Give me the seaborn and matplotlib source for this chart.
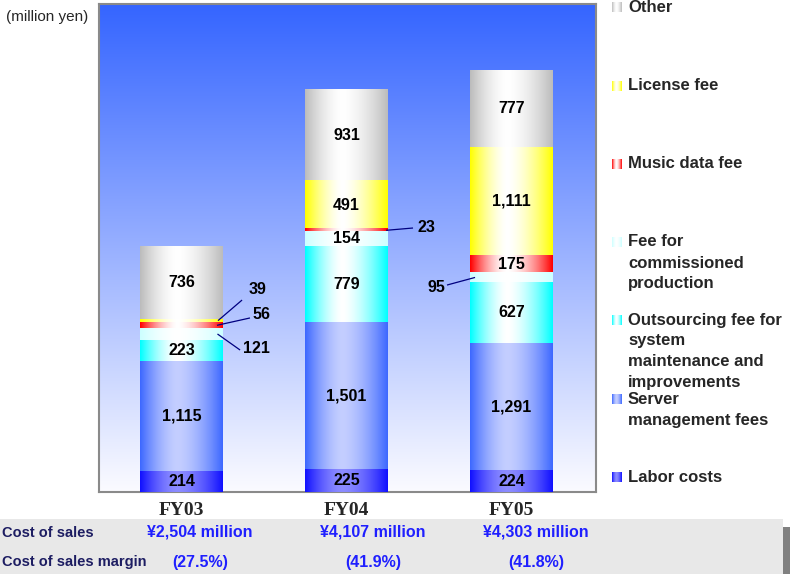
import numpy as np
import pandas as pd
import matplotlib
matplotlib.use("Agg")
import matplotlib.pyplot as plt
from matplotlib.colors import to_rgb
from matplotlib.patches import Rectangle
import seaborn as sns

# ---------------------------------------------------------------- data
years = ["FY03", "FY04", "FY05"]

labor = [214, 225, 224]
server = [1115, 1501, 1291]
outsourcing = [223, 779, 627]
commissioned = [121, 154, 95]
music = [56, 23, 175]
license_fee = [39, 491, 1111]
other = [736, 931, 777]

series_keys = ["labor", "server", "outsourcing", "commissioned",
               "music", "license", "other"]
legend_lines = {
    "labor": ["Labor costs"],
    "server": ["Server", "management fees"],
    "outsourcing": ["Outsourcing fee for", "system", "maintenance and", "improvements"],
    "commissioned": ["Fee for", "commissioned", "production"],
    "music": ["Music data fee"],
    "license": ["License fee"],
    "other": ["Other"],
}

cost_of_sales = ["¥2,504 million", "¥4,107 million", "¥4,303 million"]
cost_margin = ["(27.5%)", "(41.9%)", "(41.8%)"]

# ---------------------------------------------------------------- styling
sns.set_style("white")
plt.rcParams["font.family"] = ["Liberation Sans", "DejaVu Sans"]

# (edge colour, centre highlight) of the cylinder-like shading
shades = {
    "labor": ("#1010ff", "#8c8cff"),
    "server": ("#3d68ff", "#c4ceff"),
    "outsourcing": ("#00ffff", "#ffffff"),
    "commissioned": ("#ccffff", "#ffffff"),
    "music": ("#ff0000", "#ffffff"),
    "license": ("#ffff00", "#ffffff"),
    "other": ("#bcbcbc", "#ffffff"),
}

W, H = 790, 574
fig = plt.figure(figsize=(W / 100, H / 100), dpi=100)


def fx(px):
    return px / W


def fy(py):
    return 1 - py / H


def shade_strip(edge, centre, n=120, peak=0.45):
    t = np.linspace(0, 1, n)
    d = np.where(t < peak, (peak - t) / peak, (t - peak) / (1 - peak))
    s = 1 - d ** 1.6
    e, c = np.array(to_rgb(edge)), np.array(to_rgb(centre))
    return (e[None, :] * (1 - s[:, None]) + c[None, :] * s[:, None])[None, :, :]


# plot area, with a vertical blue-to-white backdrop
ax_left, ax_right, ax_top, ax_bottom = 99, 596, 4, 492
pos = [fx(ax_left), fy(ax_bottom), fx(ax_right - ax_left), (ax_bottom - ax_top) / H]

bg = fig.add_axes(pos, zorder=0)
v = np.linspace(0, 1, 256)[:, None]
top_c, bot_c = np.array(to_rgb("#3565ff")), np.array(to_rgb("#fbfbff"))
backdrop = top_c[None, None, :] * (1 - v[:, :, None]) + bot_c[None, None, :] * v[:, :, None]
bg.imshow(backdrop, aspect="auto", extent=[0, 1, 0, 1], interpolation="bilinear")
bg.set_axis_off()

ax = fig.add_axes(pos, zorder=1)
ax.set_facecolor("none")

# ---------------------------------------------------------------- stacked bars
df = pd.DataFrame({"year": years, "labor": labor, "server": server,
                   "outsourcing": outsourcing, "commissioned": commissioned,
                   "music": music, "license": license_fee, "other": other})
cum = df[series_keys].cumsum(axis=1)

BAR_W = 0.503
bar_boxes = {}
for key in reversed(series_keys):
    sns.barplot(x=df["year"], y=cum[key], color=shades[key][0], width=BAR_W,
                saturation=1, ax=ax, linewidth=0, zorder=2)
    cont = ax.containers[-1]
    bar_boxes[key] = [(p.get_x(), p.get_width()) for p in cont.patches]

strips = {k: shade_strip(*shades[k]) for k in series_keys}
for key in reversed(series_keys):
    for i, (x0, w) in enumerate(bar_boxes[key]):
        top = cum[key].iloc[i]
        bottom = top - df[key].iloc[i]
        ax.imshow(strips[key], aspect="auto", extent=[x0, x0 + w, bottom, top],
                  interpolation="bilinear", zorder=3)

# values with leader lines: (series, bar) -> (line start x, line end, label centre)
callouts = {
    ("license", 0): (0.221, (0.367, 1959), (0.458, 2071)),
    ("music", 0): (0.215, (0.415, 1776), (0.482, 1816)),
    ("commissioned", 0): (0.218, (0.355, 1449), (0.452, 1469)),
    ("music", 1): (1.240, (1.403, 2694), (1.482, 2704)),
    ("commissioned", 2): (1.779, (1.609, 2112), (1.548, 2092)),
}

lbl_kw = dict(fontsize=11.5, fontweight="bold", color="black", zorder=5)
for key in series_keys:
    for i in range(len(years)):
        val = df[key].iloc[i]
        mid = cum[key].iloc[i] - val / 2
        text = f"{val:,}"
        if (key, i) in callouts:
            sx, (ex, ey), (tx, ty) = callouts[(key, i)]
            ax.plot([sx, ex], [mid, ey], color="#000080", lw=0.9, zorder=4,
                    solid_capstyle="butt")
            ax.text(tx, ty, text, ha="center", va="center", **lbl_kw)
        else:
            ax.text(i, mid, text, ha="center", va="center", **lbl_kw)

ax.set_xlim(-0.5, 2.512)
ax.set_ylim(0, 4980)
ax.set_yticks([])
ax.set_xlabel("")
ax.set_ylabel("")
ax.tick_params(axis="x", length=0, pad=7)
for lab in ax.get_xticklabels():
    lab.set_fontfamily(["Liberation Serif", "DejaVu Serif"])
    lab.set_fontweight("bold")
    lab.set_fontsize(14)
for side in ["left", "right", "top", "bottom"]:
    ax.spines[side].set_visible(True)
    ax.spines[side].set_color("#8a8a8a")
    ax.spines[side].set_linewidth(1.5)

fig.text(fx(6), fy(17), "(million yen)", fontsize=11, ha="left", va="center")

# ---------------------------------------------------------------- legend
legend_y = {"other": 7, "license": 86, "music": 164, "commissioned": 242,
            "outsourcing": 320, "server": 399, "labor": 477}
for key in series_keys:
    y0 = legend_y[key]
    mk = fig.add_axes([fx(612), fy(y0 + 5), fx(10), 10 / H], zorder=2)
    mk.imshow(strips[key], aspect="auto", extent=[0, 1, 0, 1], interpolation="bilinear")
    mk.set_axis_off()
    for j, line in enumerate(legend_lines[key]):
        fig.text(fx(628), fy(y0 + 21 * j), line, fontsize=12, fontweight="bold",
                 ha="left", va="center")

# ---------------------------------------------------------------- summary table
fig.patches.append(Rectangle((0, fy(H)), fx(783), (H - 519) / H, transform=fig.transFigure,
                             facecolor="#e8e8e8", edgecolor="none", zorder=1))
fig.patches.append(Rectangle((fx(783), 0), fx(7), (H - 527) / H, transform=fig.transFigure,
                             facecolor="#808080", edgecolor="none", zorder=1))

row_kw = dict(fontsize=10.5, fontweight="bold", color="#1d1d62", ha="left", va="center")
fig.text(fx(2), fy(533), "Cost of sales", zorder=2, **row_kw)
fig.text(fx(2), fy(562), "Cost of sales margin", zorder=2, **row_kw)

val_x = [200, 373, 536]
val_kw = dict(fontsize=11.5, fontweight="bold", color="#1f1fff", ha="center",
              va="center", zorder=4)
for x, a, b in zip(val_x, cost_of_sales, cost_margin):
    fig.text(fx(x), fy(532), a, **val_kw)
    fig.text(fx(x), fy(562), b, **val_kw)

fig.savefig("out.png", dpi=100)
